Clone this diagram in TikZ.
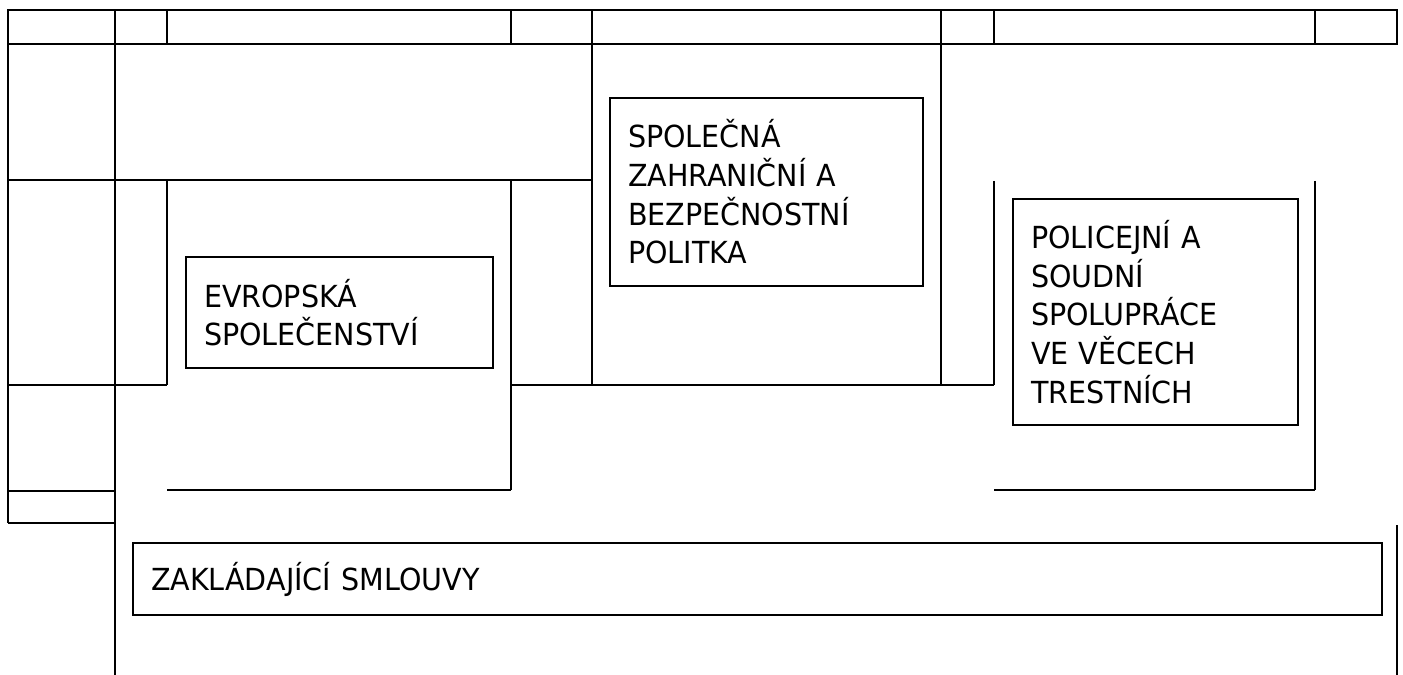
\documentclass[tikz,border=0pt]{standalone}
\usepackage{fontspec}
\setmainfont{DejaVu Sans}[FakeStretch=0.94]

\begin{document}
\begin{tikzpicture}[
  x=0.02cm,y=-0.02cm,
  rule/.style={line width=1.1pt,draw=black},
  pillar/.style={draw=black,line width=1.2pt,anchor=north west,align=left,inner xsep=0.36cm,inner ysep=0pt,font=\fontsize{17.3pt}{22pt}\selectfont}
]
\useasboundingbox (0,0) rectangle (1403,675);
% top row
\draw[rule] (8,10) rectangle (1397,44);
\foreach \x in {115,167,511,592,941,994,1315}
  \draw[rule] (\x,10) -- (\x,44);
% verticals
\draw[rule] (8,44) -- (8,523);
\draw[rule] (115,44) -- (115,675);
\draw[rule] (592,44) -- (592,385);
\draw[rule] (941,44) -- (941,385);
\draw[rule] (167,180) -- (167,385);
\draw[rule] (511,180) -- (511,490);
\draw[rule] (994,181) -- (994,385);
\draw[rule] (1315,181) -- (1315,490);
\draw[rule] (1397,525) -- (1397,675);
% horizontals
\draw[rule] (8,180) -- (592,180);
\draw[rule] (8,385) -- (167,385);
\draw[rule] (511,385) -- (994,385);
\draw[rule] (167,490) -- (511,490);
\draw[rule] (994,490) -- (1315,490);
\draw[rule] (8,491) -- (115,491);
\draw[rule] (8,523) -- (115,523);
% pillars
\node[pillar,text width=5.42cm,minimum height=2.22cm] (es) at (185,256) {EVROPSKÁ\\SPOLEČENSTVÍ};
\node[pillar,text width=5.54cm,minimum height=3.76cm] (szbp) at (609,97) {SPOLEČNÁ\\ZAHRANIČNÍ A\\BEZPEČNOSTNÍ\\POLITKA};
\node[pillar,text width=4.98cm,minimum height=4.52cm] (pjsp) at (1012,198) {POLICEJNÍ A\\SOUDNÍ\\SPOLUPRÁCE\\VE VĚCECH\\TRESTNÍCH};
\node[pillar,text width=24.26cm,minimum height=1.44cm] (zs) at (132,542) {ZAKLÁDAJÍCÍ SMLOUVY};
\end{tikzpicture}
\end{document}
